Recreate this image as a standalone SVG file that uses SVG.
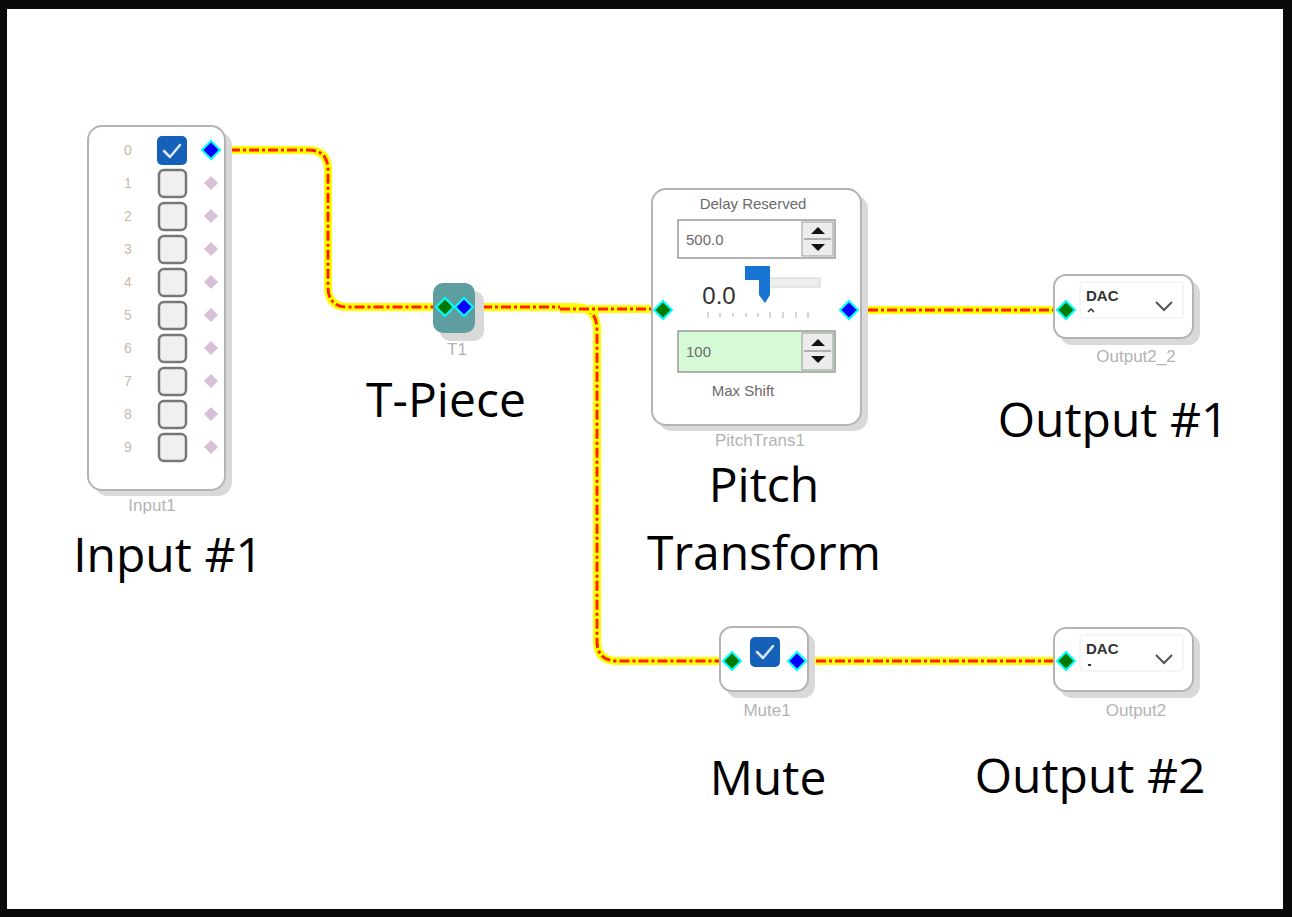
<svg xmlns="http://www.w3.org/2000/svg" width="1292" height="917" viewBox="0 0 1292 917">
<style>
.frame{fill:#fff;stroke:#b4b4b4;stroke-width:2}
.shadow{fill:#d9d9d9}
.cap{font-family:"Liberation Sans",Arial,sans-serif;font-size:17px;fill:#b3b3b3;text-anchor:middle}
.big{font-family:"Open Sans","Liberation Sans",sans-serif;font-size:48px;fill:#000;text-anchor:middle}
.num{font-family:"Liberation Sans",Arial,sans-serif;font-size:14px;fill:#c9b9a9;text-anchor:middle}
.small{font-family:"Liberation Sans",Arial,sans-serif;font-size:15px;fill:#6b6b6b}
.cb{fill:#f0f0f0;stroke:#777;stroke-width:2.5}
.cbon{fill:#1560b8}
.tick{fill:none;stroke:#dde8f5;stroke-width:2.5;stroke-linecap:round;stroke-linejoin:round}
.inD{fill:#007a00;stroke:#00ffff;stroke-width:2}
.outD{fill:#0000ff;stroke:#00ffff;stroke-width:2}
.offD{fill:#d8bfd8}
.wireU{fill:none;stroke:#ffff00;stroke-width:8;stroke-linejoin:round}
.wireO{fill:none;stroke:#ff2000;stroke-width:3;stroke-dasharray:10 3 3 3;stroke-linejoin:round}
.spin{fill:#fff;stroke:#9a9a9a;stroke-width:1.5}
.btn{fill:#ececec;stroke:#9a9a9a;stroke-width:1}
.arr{fill:#111}
.dac{font-family:"Liberation Sans",Arial,sans-serif;font-size:15px;font-weight:bold;fill:#333}
.chev{fill:none;stroke:#555;stroke-width:2}
</style>
<rect x="0" y="0" width="1292" height="917" fill="#0a0a0a"/>
<rect x="7" y="9" width="1276" height="900" fill="#fff"/>

<g id="connectors">
  <path class="wireU" d="M211,150 H308 Q328,150 328,170 V287 Q328,307 348,307 H445"/>
  <path class="wireO" d="M211,150 H308 Q328,150 328,170 V287 Q328,307 348,307 H445"/>
  <path class="wireU" d="M463,307 H575 Q597,307 597,330 V641 Q597,661 617,661 H732"/>
  <path class="wireO" d="M463,307 H575 Q597,307 597,330 V641 Q597,661 617,661 H732"/>
  <path class="wireU" d="M560,309 H663"/>
  <path class="wireO" d="M560,309 H663"/>
  <path class="wireU" d="M849,310 H1066"/>
  <path class="wireO" d="M849,310 H1066"/>
  <path class="wireU" d="M797,661 H1066"/>
  <path class="wireO" d="M797,661 H1066"/>
</g>

<g id="input1">
  <rect class="shadow" x="94" y="132" width="138" height="364" rx="14"/>
  <rect class="frame" x="88" y="126" width="137" height="364" rx="14"/>
  <g>
    <text class="num" x="128" y="155">0</text>
    <text class="num" x="128" y="188">1</text>
    <text class="num" x="128" y="221">2</text>
    <text class="num" x="128" y="254">3</text>
    <text class="num" x="128" y="287">4</text>
    <text class="num" x="128" y="320">5</text>
    <text class="num" x="128" y="353">6</text>
    <text class="num" x="128" y="386">7</text>
    <text class="num" x="128" y="419">8</text>
    <text class="num" x="128" y="452">9</text>
  </g>
  <rect class="cbon" x="157" y="136" width="30" height="29" rx="5"/>
  <path class="tick" d="M164,151 L170,157 L180,145"/>
  <rect class="cb" x="159" y="170" width="27" height="27" rx="5"/>
  <rect class="cb" x="159" y="203" width="27" height="27" rx="5"/>
  <rect class="cb" x="159" y="236" width="27" height="27" rx="5"/>
  <rect class="cb" x="159" y="269" width="27" height="27" rx="5"/>
  <rect class="cb" x="159" y="302" width="27" height="27" rx="5"/>
  <rect class="cb" x="159" y="335" width="27" height="27" rx="5"/>
  <rect class="cb" x="159" y="368" width="27" height="27" rx="5"/>
  <rect class="cb" x="159" y="401" width="27" height="27" rx="5"/>
  <rect class="cb" x="159" y="434" width="27" height="27" rx="5"/>
  <path class="outD" d="M211,141 L220,150 L211,159 L202,150 Z"/>
  <path class="offD" d="M211,176 L218,183 L211,190 L204,183 Z"/>
  <path class="offD" d="M211,209 L218,216 L211,223 L204,216 Z"/>
  <path class="offD" d="M211,242 L218,249 L211,256 L204,249 Z"/>
  <path class="offD" d="M211,275 L218,282 L211,289 L204,282 Z"/>
  <path class="offD" d="M211,308 L218,315 L211,322 L204,315 Z"/>
  <path class="offD" d="M211,341 L218,348 L211,355 L204,348 Z"/>
  <path class="offD" d="M211,374 L218,381 L211,388 L204,381 Z"/>
  <path class="offD" d="M211,407 L218,414 L211,421 L204,414 Z"/>
  <path class="offD" d="M211,440 L218,447 L211,454 L204,447 Z"/>
  <text class="cap" x="152" y="511">Input1</text>
  <text class="big" x="168" y="572">Input #1</text>
</g>

<g id="t1">
  <rect class="shadow" x="440" y="291" width="44" height="50" rx="10"/>
  <rect x="433" y="283" width="42" height="50" rx="10" fill="#5f9ea0"/>
  <path class="inD" d="M445,298 L454,307 L445,316 L436,307 Z"/>
  <path class="outD" d="M464,298 L473,307 L464,316 L455,307 Z"/>
  <text class="cap" x="457" y="355">T1</text>
  <text class="big" x="446" y="417">T-Piece</text>
</g>

<g id="pitchtrans1">
  <rect class="shadow" x="658" y="195" width="210" height="236" rx="14"/>
  <rect class="frame" x="652" y="189" width="209" height="236" rx="14"/>
  <text class="small" x="753" y="209" text-anchor="middle">Delay Reserved</text>
  <rect class="spin" x="678" y="220" width="157" height="38"/>
  <text class="small" x="686" y="245" font-size="17" fill="#777">500.0</text>
  <rect class="btn" x="802" y="222" width="31" height="34"/>
  <line x1="804" y1="239" x2="831" y2="239" stroke="#9a9a9a" stroke-width="1.5"/>
  <path class="arr" d="M811,234 L818,227 L825,234 Z"/>
  <path class="arr" d="M811,244 L825,244 L818,251 Z"/>
  <text x="719" y="304" font-family="Liberation Sans,Arial,sans-serif" font-size="24" fill="#333" text-anchor="middle">0.0</text>
  <rect x="768" y="278" width="52" height="9" fill="#eee" stroke="#d2d2d2" stroke-width="1"/>
  <path d="M745,266 H770 V295 L765,303 L759,295 V280 H745 Z" fill="#1874d2"/>
  <g stroke="#c8c8c8" stroke-width="1.5">
    <line x1="708" y1="312" x2="708" y2="318"/>
    <line x1="720" y1="313" x2="720" y2="317"/>
    <line x1="733" y1="313" x2="733" y2="317"/>
    <line x1="746" y1="313" x2="746" y2="317"/>
    <line x1="758" y1="313" x2="758" y2="317"/>
    <line x1="770" y1="312" x2="770" y2="318"/>
    <line x1="783" y1="312" x2="783" y2="318"/>
    <line x1="796" y1="312" x2="796" y2="318"/>
    <line x1="808" y1="312" x2="808" y2="318"/>
  </g>
  <rect x="678" y="331" width="157" height="41" fill="#d5fad5" stroke="#9a9a9a" stroke-width="1.5"/>
  <text class="small" x="686" y="357" font-size="17" fill="#777">100</text>
  <rect class="btn" x="802" y="333" width="31" height="37"/>
  <line x1="804" y1="351" x2="831" y2="351" stroke="#9a9a9a" stroke-width="1.5"/>
  <path class="arr" d="M811,346 L818,339 L825,346 Z"/>
  <path class="arr" d="M811,356 L825,356 L818,363 Z"/>
  <text class="small" x="743" y="396" text-anchor="middle" font-size="14">Max Shift</text>
  <path class="inD" d="M663,301 L672,310 L663,319 L654,310 Z"/>
  <path class="outD" d="M849,301 L858,310 L849,319 L840,310 Z"/>
  <text class="cap" x="760" y="446">PitchTrans1</text>
  <text class="big" x="764" y="502">Pitch</text>
  <text class="big" x="764" y="570">Transform</text>
</g>

<g id="output2_2">
  <rect class="shadow" x="1060" y="281" width="140" height="64" rx="12"/>
  <rect class="frame" x="1054" y="275" width="139" height="63" rx="12"/>
  <rect x="1080" y="282" width="103" height="36" rx="3" fill="#fff" stroke="#ececec"/>
  <text class="dac" x="1086" y="301">DAC</text>
  <path d="M1088,312 L1091,309 L1094,312" fill="none" stroke="#333" stroke-width="1.5"/>
  <path class="chev" d="M1156,302 L1164,310 L1172,302"/>
  <path class="inD" d="M1066,301 L1075,310 L1066,319 L1057,310 Z"/>
  <text class="cap" x="1136" y="362">Output2_2</text>
  <text class="big" x="1113" y="437">Output #1</text>
</g>

<g id="mute1">
  <rect class="shadow" x="726" y="633" width="89" height="65" rx="12"/>
  <rect class="frame" x="720" y="627" width="88" height="64" rx="12"/>
  <rect class="cbon" x="750" y="637" width="30" height="30" rx="5"/>
  <path class="tick" d="M757,652 L763,658 L773,646"/>
  <path class="inD" d="M732,652 L741,661 L732,670 L723,661 Z"/>
  <path class="outD" d="M797,652 L806,661 L797,670 L788,661 Z"/>
  <text class="cap" x="767" y="716">Mute1</text>
  <text class="big" x="768" y="795">Mute</text>
</g>

<g id="output2">
  <rect class="shadow" x="1060" y="634" width="140" height="64" rx="12"/>
  <rect class="frame" x="1054" y="628" width="139" height="63" rx="12"/>
  <rect x="1080" y="635" width="103" height="36" rx="3" fill="#fff" stroke="#ececec"/>
  <text class="dac" x="1086" y="654">DAC</text>
  <rect x="1088" y="664" width="3" height="2" fill="#333"/>
  <path class="chev" d="M1156,655 L1164,663 L1172,655"/>
  <path class="inD" d="M1066,652 L1075,661 L1066,670 L1057,661 Z"/>
  <text class="cap" x="1136" y="716">Output2</text>
  <text class="big" x="1090" y="793">Output #2</text>
</g>
</svg>
